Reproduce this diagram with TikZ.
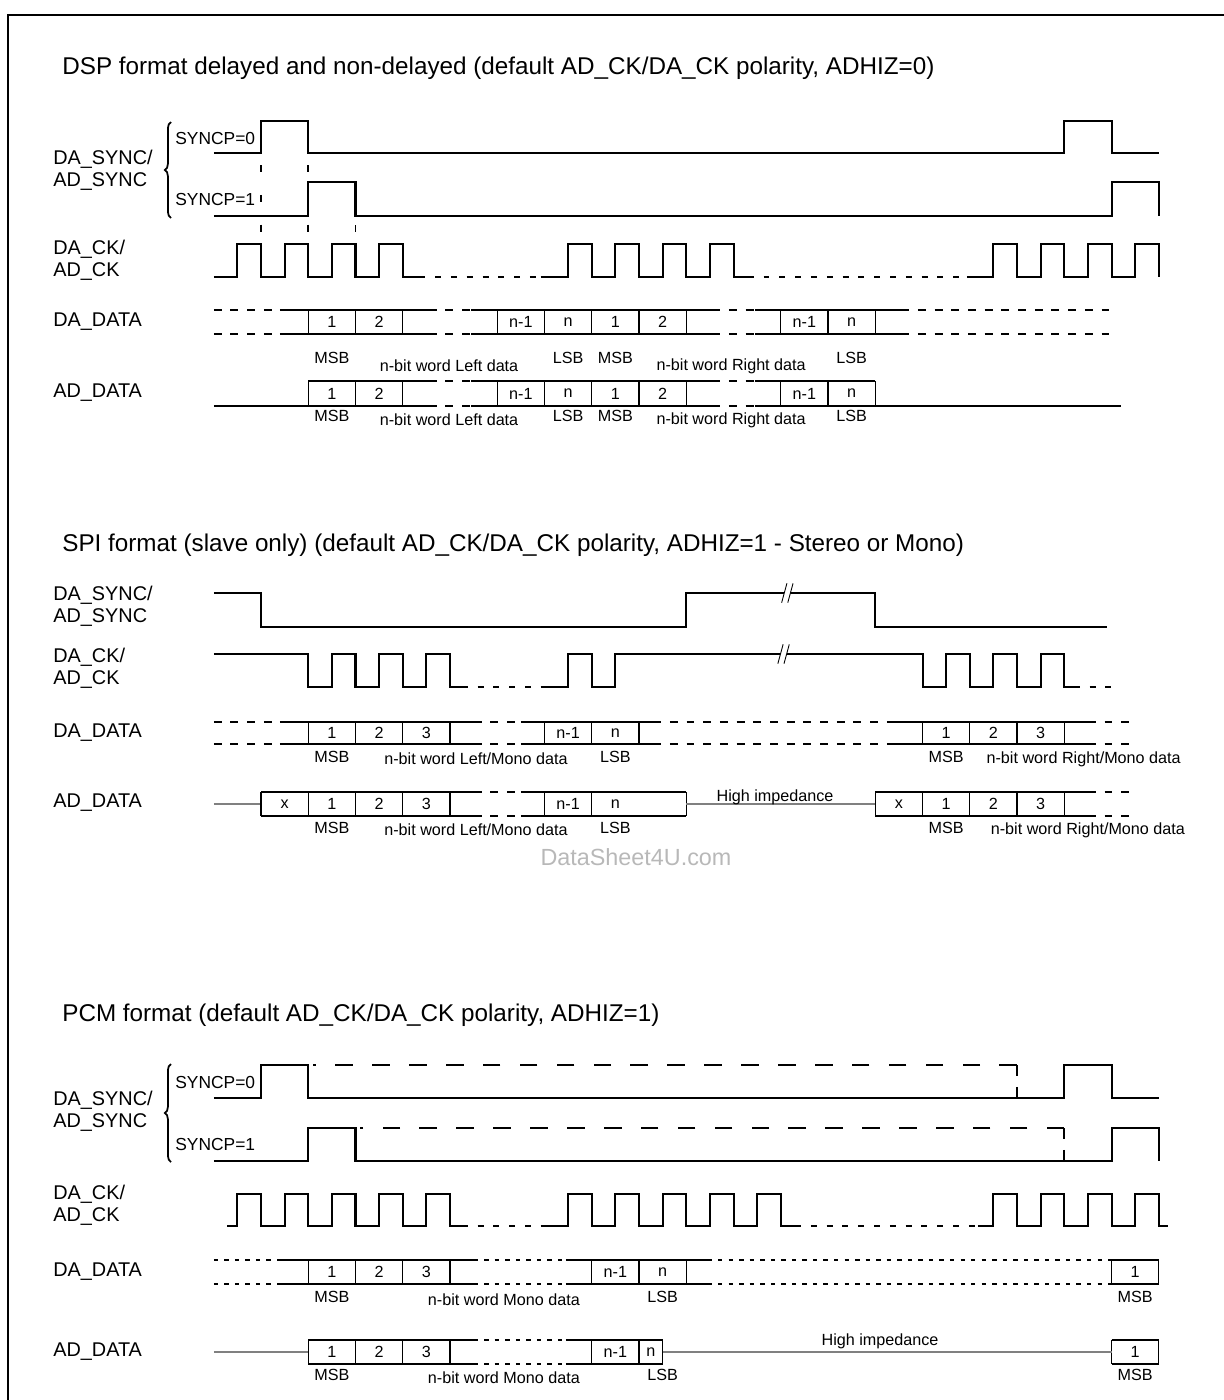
\documentclass[tikz,border=0pt]{standalone}
\usepackage{fontspec}
\setmainfont{Liberation Sans}
\usetikzlibrary{decorations.pathreplacing}

\tikzset{
  brk/.pic={
    \fill[white] (-3pt,-5.5pt) -- (0pt,5.5pt) -- (3.5pt,5.5pt) -- (0.5pt,-5.5pt) -- cycle;
    \draw[line width=0.5pt] (-3pt,-5.5pt) -- (0pt,5.5pt) (0.5pt,-5.5pt) -- (3.5pt,5.5pt);
  },
}

\begin{document}
\begin{tikzpicture}[x=0.02cm,y=-0.02cm,
  sig/.style={line width=1.15pt},
  box/.style={line width=0.8pt},
  hiz/.style={line width=0.8pt,gray},
  lowdash/.style={sig,dash pattern=on 3.4pt off 5.6pt},
  gapdash/.style={box,dash pattern=on 4.5pt off 5pt},
  dotdash/.style={box,dash pattern=on 2.5pt off 3.5pt},
  longdash/.style={sig,dash pattern=on 10pt off 11pt},
  vdash/.style={sig,dash pattern=on 6pt off 6.5pt},
  guide/.style={line width=1pt,dash pattern=on 4pt off 13pt},
  title/.style={anchor=west,inner sep=0pt,font=\fontsize{13.8}{16}\selectfont},
  signame/.style={anchor=west,inner sep=0pt,align=left,font=\fontsize{11.3}{12.5}\selectfont},
  syncp/.style={anchor=west,inner sep=0pt,font=\fontsize{9.9}{11}\selectfont},
  bit/.style={inner sep=0pt,font=\fontsize{9.2}{11}\selectfont},
]
\useasboundingbox (0,0) rectangle (1224,1400);
\clip (0,0) rectangle (1224,1400);
\draw[line width=1.2pt] (8,1420) -- (8,15) -- (1240,15);

% ---------------- DSP format ----------------
\node[title] (dsp) at (62,68) {DSP format delayed and non-delayed (default AD\_CK/DA\_CK polarity, ADHIZ=0)};
\node[signame] (dspsync) at (53,170.5) {DA\_SYNC/\\AD\_SYNC};
\node[signame] (dspck) at (53,260.5) {DA\_CK/\\AD\_CK};
\node[signame] (dspda) at (53,322) {DA\_DATA};
\node[signame] (dspad) at (53,393) {AD\_DATA};
\draw[line width=1pt,decorate,decoration={brace,amplitude=3.5pt}] (171,218) -- (171,122);
\node[syncp] (dspp0) at (175,139) {SYNCP=0};
\node[syncp] (dspp1) at (175,200) {SYNCP=1};

\begin{scope}[shift={(261,0)},x=0.9452cm]
  \draw[sig] (-1,153) -- (0,153) -- (0,121) -- (1,121) -- (1,153) -- (17,153)
    -- (17,121) -- (18,121) -- (18,153) -- (19,153);
  \draw[sig] (-1,216) -- (1,216) -- (1,182) -- (2,182) -- (2,216) -- (18,216)
    -- (18,182) -- (19,182) -- (19,216);
  \foreach \k/\a in {0/165,1/165,2/225} \draw[guide] (\k,\a) -- (\k,240);
  % clock
  \draw[sig] (-1,277) \foreach \k in {0,...,3}{ -- (\k-0.5,277) -- (\k-0.5,244) -- (\k,244) -- (\k,277)} -- (3.35,277);
  \draw[lowdash] (3.35,277) -- (5.92,277);
  \draw[sig] (5.92,277) \foreach \k in {7,...,10}{ -- (\k-0.5,277) -- (\k-0.5,244) -- (\k,244) -- (\k,277)} -- (10.3,277);
  \draw[lowdash] (10.3,277) -- (14.94,277);
  \draw[sig] (14.94,277) \foreach \k in {16,...,19}{ -- (\k-0.5,277) -- (\k-0.5,244) -- (\k,244) -- (\k,277)};
  % DA_DATA
  \foreach \y in {310,334}{
    \draw[gapdash] (-1,\y) -- (0.4,\y);
    \draw[box] (0.4,\y) -- (3.55,\y);
    \draw[gapdash] (3.55,\y) -- (4.45,\y);
    \draw[box] (4.45,\y) -- (9.55,\y);
    \draw[gapdash] (9.55,\y) -- (10.45,\y);
    \draw[box] (10.45,\y) -- (13.55,\y);
    \draw[gapdash] (13.55,\y) -- (18,\y);
  }
  \foreach \k in {1,2,3,5,6,7,8,9,11,12,13} \draw[box] (\k,310) -- (\k,334);
  \foreach \k/\t [count=\i] in {1.5/1,2.5/2,5.5/n-1,6.5/n,7.5/1,8.5/2,11.5/n-1,12.5/n}
    \node[bit] (dspdab\i) at (\k,322) {\t};
  \foreach \k/\t [count=\i] in {1.5/MSB,6.5/LSB,7.5/MSB,12.5/LSB}
    \node[bit] (dspdal\i) at (\k,358) {\t};
  \node[bit] (dspdaw1) at (3.98,366) {n-bit word Left data};
  \node[bit] (dspdaw2) at (9.95,366) {n-bit word Right data};
  % AD_DATA
  \draw[box] (-1,406) -- (1,406);
  \foreach \y in {381,406}{
    \draw[box] (1,\y) -- (3.55,\y);
    \draw[gapdash] (3.55,\y) -- (4.45,\y);
    \draw[box] (4.45,\y) -- (9.55,\y);
    \draw[gapdash] (9.55,\y) -- (10.45,\y);
  }
  \draw[box] (10.45,381) -- (13,381);
  \draw[box] (10.45,406) -- (18.2,406);
  \foreach \k in {1,2,3,5,6,7,8,9,11,12,13} \draw[box] (\k,381) -- (\k,406);
  \foreach \k/\t [count=\i] in {1.5/1,2.5/2,5.5/n-1,6.5/n,7.5/1,8.5/2,11.5/n-1,12.5/n}
    \node[bit] (dspadb\i) at (\k,393.5) {\t};
  \foreach \k/\t [count=\i] in {1.5/MSB,6.5/LSB,7.5/MSB,12.5/LSB}
    \node[bit] (dspadl\i) at (\k,416) {\t};
  \node[bit] (dspadw1) at (3.98,420) {n-bit word Left data};
  \node[bit] (dspadw2) at (9.95,420) {n-bit word Right data};
\end{scope}

% ---------------- SPI format ----------------
\node[title] (spi) at (62,545) {SPI format (slave only) (default AD\_CK/DA\_CK polarity, ADHIZ=1 - Stereo or Mono)};
\node[signame] (spisync) at (53,606) {DA\_SYNC/\\AD\_SYNC};
\node[signame] (spick) at (53,668) {DA\_CK/\\AD\_CK};
\node[signame] (spida) at (53,733) {DA\_DATA};
\node[signame] (spiad) at (53,803) {AD\_DATA};

\begin{scope}[shift={(261,0)},x=0.9452cm]
  \draw[sig] (-1,593) -- (0,593) -- (0,627) -- (9,627) -- (9,593) -- (13,593)
    -- (13,627) -- (17.9,627);
  \pic at (11.13,593) {brk};
  % clock
  \draw[sig] (-1,654) -- (1,654) \foreach \k in {1,2,3}{ -- (\k,687) -- (\k+0.5,687) -- (\k+0.5,654) -- (\k+1,654)} -- (4,687) -- (4.25,687);
  \draw[lowdash] (4.25,687) -- (5.92,687);
  \draw[sig] (5.92,687) -- (6.5,687) -- (6.5,654) -- (7,654) -- (7,687) -- (7.5,687) -- (7.5,654) -- (14,654)
    \foreach \k in {14,15,16}{ -- (\k,687) -- (\k+0.5,687) -- (\k+0.5,654) -- (\k+1,654)} -- (17,687) -- (17.2,687);
  \draw[lowdash] (17.2,687) -- (18.2,687);
  \pic at (11.05,654) {brk};
  % DA_DATA
  \foreach \y in {722,744}{
    \draw[gapdash] (-1,\y) -- (0.4,\y);
    \draw[box] (0.4,\y) -- (4.5,\y);
    \draw[gapdash] (4.5,\y) -- (5.5,\y);
    \draw[box] (5.5,\y) -- (8.3,\y);
    \draw[gapdash] (8.3,\y) -- (13.4,\y);
    \draw[box] (13.4,\y) -- (17.5,\y);
    \draw[gapdash] (17.5,\y) -- (18.5,\y);
  }
  \foreach \k in {1,2,3,4,6,7,8,14,15,16,17} \draw[box] (\k,722) -- (\k,744);
  \foreach \k/\t [count=\i] in {1.5/1,2.5/2,3.5/3,6.5/n-1,7.5/n,14.5/1,15.5/2,16.5/3}
    \node[bit] (spidab\i) at (\k,733) {\t};
  \foreach \k/\t [count=\i] in {1.5/MSB,7.5/LSB,14.5/MSB}
    \node[bit] (spidal\i) at (\k,757) {\t};
  \node[bit] (spidaw1) at (4.55,759) {n-bit word Left/Mono data};
  \node[bit] (spidaw2) at (17.41,759) {n-bit word Right/Mono data};
  % AD_DATA
  \draw[hiz] (-1,804) -- (0,804);
  \foreach \y in {792,816}{
    \draw[box] (0,\y) -- (4.5,\y);
    \draw[gapdash] (4.5,\y) -- (5.5,\y);
    \draw[box] (5.5,\y) -- (9,\y);
    \draw[box] (13,\y) -- (17.5,\y);
    \draw[gapdash] (17.5,\y) -- (18.5,\y);
  }
  \foreach \k in {0,1,2,3,4,6,7,9,13,14,15,16,17} \draw[box] (\k,792) -- (\k,816);
  \draw[hiz] (9,804) -- (13,804);
  \node[bit,anchor=base] (spihz) at (10.88,801) {High impedance};
  \foreach \k/\t [count=\i] in {0.5/x,1.5/1,2.5/2,3.5/3,6.5/n-1,7.5/n,13.5/x,14.5/1,15.5/2,16.5/3}
    \node[bit] (spiadb\i) at (\k,804) {\t};
  \foreach \k/\t [count=\i] in {1.5/MSB,7.5/LSB,14.5/MSB}
    \node[bit] (spiadl\i) at (\k,828) {\t};
  \node[bit] (spiadw1) at (4.55,830) {n-bit word Left/Mono data};
  \node[bit] (spiadw2) at (17.5,830) {n-bit word Right/Mono data};
\end{scope}
\node[font=\fontsize{13.3}{15}\selectfont,text=black!28] (wm) at (636,857) {DataSheet4U.com};

% ---------------- PCM format ----------------
\node[title] (pcm) at (62,1015) {PCM format (default AD\_CK/DA\_CK polarity, ADHIZ=1)};
\node[signame] (pcmsync) at (53,1111) {DA\_SYNC/\\AD\_SYNC};
\node[signame] (pcmck) at (53,1205) {DA\_CK/\\AD\_CK};
\node[signame] (pcmda) at (53,1272) {DA\_DATA};
\node[signame] (pcmad) at (53,1352) {AD\_DATA};
\draw[line width=1pt,decorate,decoration={brace,amplitude=3.5pt}] (171,1162) -- (171,1064);
\node[syncp] (pcmp0) at (175,1082) {SYNCP=0};
\node[syncp] (pcmp1) at (175,1144) {SYNCP=1};

\begin{scope}[shift={(261,0)},x=0.9452cm]
  \draw[sig] (-1,1098) -- (0,1098) -- (0,1065) -- (1,1065) -- (1,1098) -- (17,1098)
    -- (17,1065) -- (18,1065) -- (18,1098) -- (19,1098);
  \draw[longdash] (16,1065) -- (1.1,1065);
  \draw[vdash] (16,1065) -- (16,1098);
  \draw[sig] (-1,1161) -- (1,1161) -- (1,1128) -- (2,1128) -- (2,1161) -- (18,1161)
    -- (18,1128) -- (19,1128) -- (19,1161);
  \draw[longdash] (17,1128) -- (2.1,1128);
  \draw[vdash] (17,1128) -- (17,1161);
  % clock
  \draw[sig] (-0.71,1226) \foreach \k in {0,...,4}{ -- (\k-0.5,1226) -- (\k-0.5,1194) -- (\k,1194) -- (\k,1226)} -- (4.25,1226);
  \draw[lowdash] (4.25,1226) -- (5.92,1226);
  \draw[sig] (5.92,1226) \foreach \k in {7,...,11}{ -- (\k-0.5,1226) -- (\k-0.5,1194) -- (\k,1194) -- (\k,1226)} -- (11.3,1226);
  \draw[lowdash] (11.3,1226) -- (15.17,1226);
  \draw[sig] (15.17,1226) \foreach \k in {16,...,19}{ -- (\k-0.5,1226) -- (\k-0.5,1194) -- (\k,1194) -- (\k,1226)} -- (19.19,1226);
  % DA_DATA
  \foreach \y in {1260,1284}{
    \draw[dotdash] (-1,\y) -- (0.4,\y);
    \draw[box] (0.4,\y) -- (4.5,\y);
    \draw[dotdash] (4.5,\y) -- (6.45,\y);
    \draw[box] (6.45,\y) -- (9.45,\y);
    \draw[dotdash] (9.45,\y) -- (18,\y);
    \draw[box] (18,\y) -- (19,\y);
  }
  \foreach \k in {1,2,3,4,7,8,9,18,19} \draw[box] (\k,1260) -- (\k,1284);
  \foreach \k/\t [count=\i] in {1.5/1,2.5/2,3.5/3,7.5/n-1,8.5/n,18.5/1}
    \node[bit] (pcmdab\i) at (\k,1272) {\t};
  \foreach \k/\t [count=\i] in {1.5/MSB,8.5/LSB,18.5/MSB}
    \node[bit] (pcmdal\i) at (\k,1297) {\t};
  \node[bit] (pcmdaw) at (5.14,1300) {n-bit word Mono data};
  % AD_DATA
  \draw[hiz] (-1,1352) -- (1,1352);
  \foreach \y in {1340,1364}{
    \draw[box] (1,\y) -- (4.5,\y);
    \draw[dotdash] (4.5,\y) -- (6.45,\y);
    \draw[box] (6.45,\y) -- (8.5,\y);
    \draw[box] (18,\y) -- (19,\y);
  }
  \foreach \k in {1,2,3,4,7,8,8.5,18,19} \draw[box] (\k,1340) -- (\k,1364);
  \draw[hiz] (8.5,1352) -- (18,1352);
  \node[bit,anchor=base] (pcmhz) at (13.1,1345) {High impedance};
  \foreach \k/\t [count=\i] in {1.5/1,2.5/2,3.5/3,7.5/n-1,8.25/n,18.5/1}
    \node[bit] (pcmadb\i) at (\k,1352) {\t};
  \foreach \k/\t [count=\i] in {1.5/MSB,8.5/LSB,18.5/MSB}
    \node[bit] (pcmadl\i) at (\k,1375) {\t};
  \node[bit] (pcmadw) at (5.14,1378) {n-bit word Mono data};
\end{scope}
\end{tikzpicture}
\end{document}
